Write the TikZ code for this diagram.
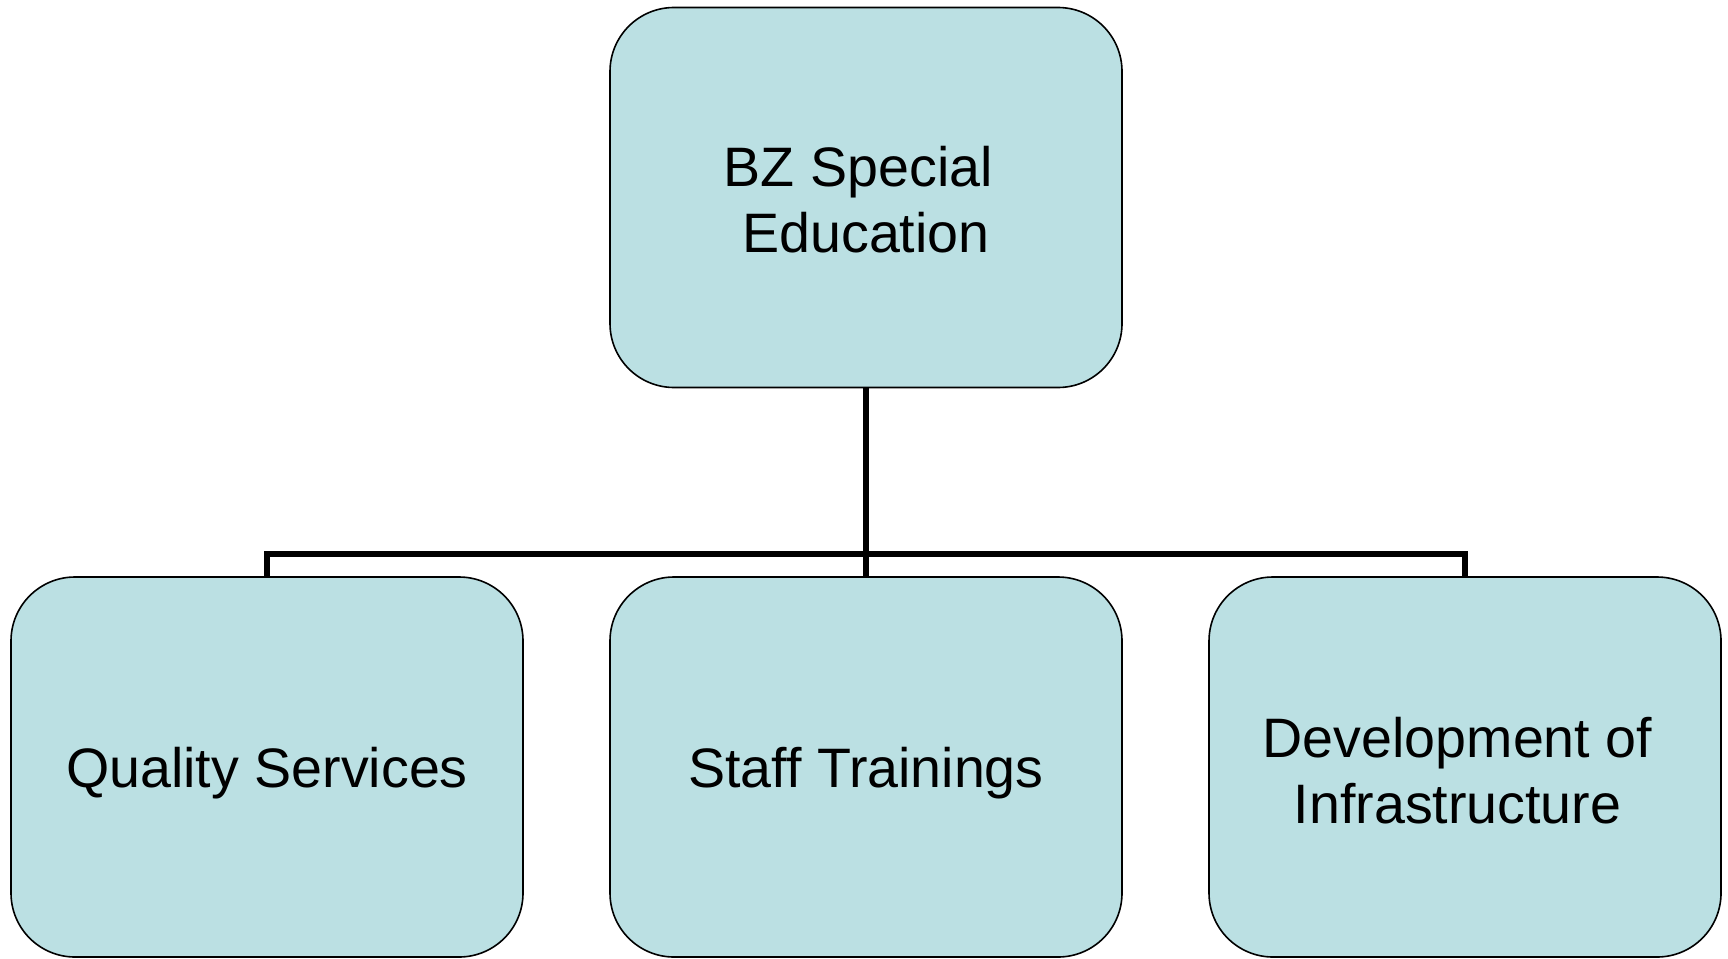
\documentclass[tikz,border=0pt]{standalone}
\usepackage{fontspec}
\setmainfont{Liberation Sans}
\definecolor{boxfill}{RGB}{187,224,227}
\begin{document}
\begin{tikzpicture}[x=1pt,y=-1pt,
  orgbox/.style={draw=black, line width=1.6pt, fill=boxfill, rounded corners=64pt,
    minimum width=512pt, minimum height=380pt, inner sep=0pt},
  boxtext/.style={inner sep=0pt, align=center, font=\fontsize{55.6}{66}\selectfont},
  link/.style={draw=black, line width=6pt}]
\useasboundingbox (0,0) rectangle (1728,958);
\fill[white] (0,0) rectangle (1728,958);
\node[orgbox] (top) at (866,197.5) {};
\node[orgbox] (qs) at (267,767) {};
\node[orgbox] (st) at (866,767) {};
\node[orgbox] (di) at (1465,767) {};
\coordinate (j) at (866,554);
\draw[link] (top.south) -- (st.north);
\draw[link] (qs.north) |- (j) -| (di.north);
\node[boxtext] (topt) at ([yshift=-2pt]top.center) {BZ Special\hspace*{15.5pt}\\Education};
\node[boxtext] (qst) at ([yshift=-6.5pt]qs.center) {Quality Services};
\node[boxtext] (stt) at ([yshift=-6.5pt]st.center) {Staff Trainings};
\node[boxtext] (dit) at ([xshift=-7.5pt,yshift=-3.5pt]di.center) {Development of\\Infrastructure};
\end{tikzpicture}
\end{document}
